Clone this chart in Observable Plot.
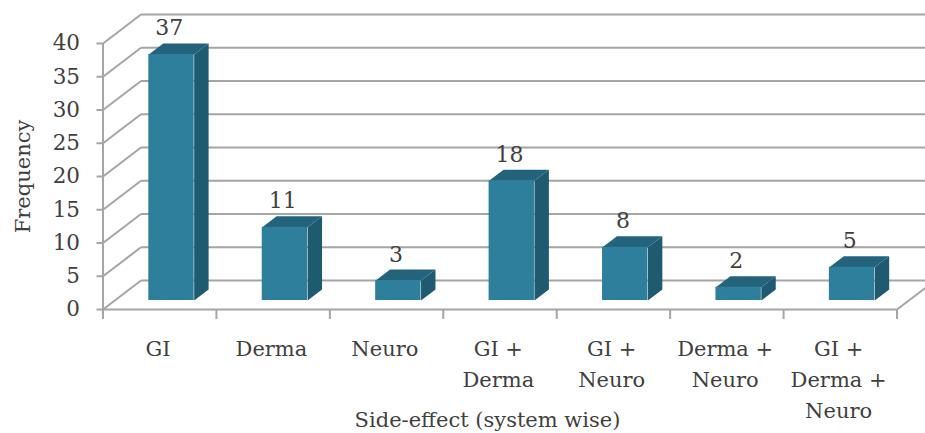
<!DOCTYPE html>
<html>
<head>
<meta charset="utf-8">
<script src="https://cdn.jsdelivr.net/npm/d3@7"></script>
<script src="https://cdn.jsdelivr.net/npm/@observablehq/plot@0.6"></script>
<style>
  html, body { margin: 0; padding: 0; background: #fff; overflow: hidden; }
  svg { display: block; }
</style>
</head>
<body>
<script>
// Side-effect frequencies by affected system
const categories = ["GI", "Derma", "Neuro", "GI +\nDerma", "GI +\nNeuro", "Derma +\nNeuro", "GI +\nDerma +\nNeuro"];
const frequencies = [37, 11, 3, 18, 8, 2, 5];
const frequencyTicks = [0, 5, 10, 15, 20, 25, 30, 35, 40];
const xTitle = "Side-effect (system wise)";
const yTitle = "Frequency";

// Oblique projection expressed in scale units: depth 0 is the front of the
// floor, depth 1 the back wall.
const SHIFT_X = 0.335;
const SHIFT_Y = 4.36;
const px = (x, depth) => x + SHIFT_X * depth;
const py = (y, depth) => y + SHIFT_Y * depth;

const BAR_FRONT = 0.31;
const BAR_BACK = 0.69;
const BAR_HALF = 0.2;

const GRID = "#a5a5a5";
const TEXT = "#3f3f3f";
const FONT = "'DejaVu Serif', serif";

const bars = frequencies.map((value, i) => ({
  value,
  x0: i + 0.5 - BAR_HALF,
  x1: i + 0.5 + BAR_HALF
}));

// Faces of each bar as closed polygons
const polygon = (id, corners) => corners.map(([x, y, d]) => ({id, x: px(x, d), y: py(y, d)}));
const sideFaces = bars.flatMap((b, i) => polygon(i, [
  [b.x1, 0, BAR_FRONT], [b.x1, 0, BAR_BACK], [b.x1, b.value, BAR_BACK], [b.x1, b.value, BAR_FRONT]
]));
const topFaces = bars.flatMap((b, i) => polygon(i, [
  [b.x0, b.value, BAR_FRONT], [b.x1, b.value, BAR_FRONT], [b.x1, b.value, BAR_BACK], [b.x0, b.value, BAR_BACK]
]));

const n = categories.length;
const slotEdges = d3.range(n + 1);
const slotCentres = categories.map((_, i) => i + 0.5);

const chart = Plot.plot({
  width: 925,
  height: 433,
  marginLeft: 102.5,
  marginRight: 28.5,
  marginTop: 43,
  marginBottom: 124,
  style: {background: "#fff", fontFamily: FONT},
  x: {domain: [0, n], axis: null},
  y: {domain: [0, 40], axis: null},
  marks: [
    // Left wall diagonals and back wall grid lines
    Plot.link(frequencyTicks, {
      x1: 0, y1: d => d, x2: px(0, 1), y2: d => py(d, 1),
      stroke: GRID, strokeWidth: 2
    }),
    Plot.link(frequencyTicks, {
      x1: px(0, 1), y1: d => py(d, 1), x2: px(n, 1), y2: d => py(d, 1),
      stroke: GRID, strokeWidth: 2
    }),
    // Right edge of the floor
    Plot.link([0], {
      x1: n, y1: 0, x2: px(n, 1), y2: py(0, 1),
      stroke: GRID, strokeWidth: 2
    }),
    // Front edge of the floor and the vertical axis line
    Plot.ruleY([0], {x1: 0, x2: n, stroke: GRID, strokeWidth: 2}),
    Plot.ruleX([0], {y1: 0, y2: 40, stroke: GRID, strokeWidth: 2}),

    // Bars
    Plot.line(sideFaces, {x: "x", y: "y", z: "id", fill: "#1f5b70", stroke: null}),
    Plot.line(topFaces, {x: "x", y: "y", z: "id", fill: "#23647c", stroke: null}),
    Plot.rect(bars, {
      x1: d => px(d.x0, BAR_FRONT),
      x2: d => px(d.x1, BAR_FRONT),
      y1: py(0, BAR_FRONT),
      y2: d => py(d.value, BAR_FRONT),
      fill: "#2e7f9c"
    }),

    // Value labels above each bar
    Plot.text(bars, {
      x: d => px(d.x0 + BAR_HALF, 0.25),
      y: d => py(d.value, BAR_BACK),
      text: d => String(d.value),
      dy: -15,
      fontSize: 22,
      fill: TEXT
    }),

    // Axes
    Plot.axisY({
      ticks: frequencyTicks,
      tickSize: 6,
      tickPadding: 17,
      fontSize: 21.5,
      color: TEXT,
      stroke: GRID,
      strokeWidth: 2,
      label: null
    }),
    Plot.axisX({
      ticks: slotEdges,
      tickSize: 10,
      tickFormat: () => "",
      stroke: GRID,
      strokeWidth: 2,
      label: null
    }),
    Plot.text(categories, {
      x: (d, i) => slotCentres[i] - 0.015,
      frameAnchor: "bottom",
      lineAnchor: "top",
      dy: 24,
      lineHeight: 1.48,
      fontSize: 21,
      fill: TEXT
    }),

    // Axis titles
    Plot.text([xTitle], {
      x: 3.39,
      frameAnchor: "bottom",
      dy: 111,
      lineAnchor: "middle",
      fontSize: 21,
      fill: TEXT
    }),
    Plot.text([yTitle], {
      frameAnchor: "left",
      textAnchor: "middle",
      dx: -80,
      rotate: -90,
      fontSize: 21,
      fill: TEXT
    })
  ]
});

document.body.append(chart);
</script>
</body>
</html>
